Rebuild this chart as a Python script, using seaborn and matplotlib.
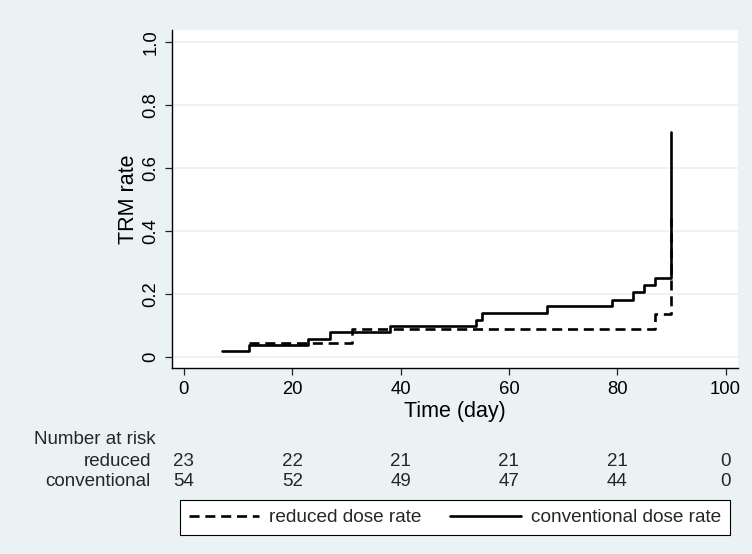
import numpy as np
import pandas as pd
import matplotlib
matplotlib.use("Agg")
import matplotlib.pyplot as plt
import seaborn as sns
from matplotlib.transforms import blended_transform_factory
from matplotlib.lines import Line2D

# ---------------- data ----------------
conv_time = [7, 12, 23, 27, 38, 54, 55, 67, 79, 83, 85, 87, 90]
conv_rate = [0.018, 0.037, 0.055, 0.077, 0.096, 0.117, 0.138, 0.161, 0.181, 0.205, 0.228, 0.251, 0.716]
red_time = [12, 31, 87, 90]
red_rate = [0.043, 0.087, 0.136, 0.441]
group_labels = ["reduced dose rate", "conventional dose rate"]
risk_row_labels = ["reduced", "conventional"]
risk_times = [0, 20, 40, 60, 80, 100]
risk_reduced = [23, 22, 21, 21, 21, 0]
risk_conventional = [54, 52, 49, 47, 44, 0]
x_ticks = [0, 20, 40, 60, 80, 100]
y_ticks = [0, 0.2, 0.4, 0.6, 0.8, 1.0]
y_ticklabels = ["0", "0.2", "0.4", "0.6", "0.8", "1.0"]

BG = "#eaf2f3"
W, H = 752, 554

sns.set_theme(style="white")
plt.rcParams['font.family'] = ['Liberation Sans', 'DejaVu Sans']

fig = plt.figure(figsize=(W / 100, H / 100), dpi=100, facecolor=BG)
ax = fig.add_axes([172 / W, 1 - 368 / H, (738 - 172) / W, (368 - 30) / H])
ax.set_facecolor("white")

df_red = pd.DataFrame({"time": red_time, "rate": red_rate})
df_conv = pd.DataFrame({"time": conv_time, "rate": conv_rate})

LW = 1.9
DASH = (0, (3.8, 2.2))
sns.lineplot(data=df_red, x="time", y="rate", ax=ax, color="black", lw=LW,
             drawstyle="steps-post", linestyle=DASH, estimator=None, sort=False,
             legend=False)
sns.lineplot(data=df_conv, x="time", y="rate", ax=ax, color="black", lw=LW,
             drawstyle="steps-post", estimator=None, sort=False, legend=False)

ax.set_xlim(-2.2, 102.3)
ax.set_ylim(-0.036, 1.039)
ax.set_xticks(x_ticks)
ax.set_xticklabels([str(t) for t in x_ticks])
ax.set_yticks(y_ticks)
ax.set_yticklabels(y_ticklabels, rotation=90, va="center")

ax.yaxis.grid(True, color=BG, lw=1.3)
ax.xaxis.grid(False)
for s in ["top", "right"]:
    ax.spines[s].set_visible(False)
for s in ["left", "bottom"]:
    ax.spines[s].set_color("black")
    ax.spines[s].set_linewidth(1.0)

ax.tick_params(axis="both", which="major", direction="out", length=5, width=0.9,
               color="#222222", labelsize=13.3, labelcolor="black", pad=4,
               bottom=True, left=True)

ax.set_xlabel("Time (day)", fontsize=15.5, color="black")
ax.set_ylabel("TRM rate", fontsize=15.5, color="black")
ax.xaxis.set_label_coords(0.5, (368 - 411) / 338)
ax.xaxis.label.set_va("center")
ax.yaxis.set_label_coords((129 - 172) / 566, 0.5)
ax.yaxis.label.set_va("center")

# ------------- number at risk table -------------
tr = blended_transform_factory(ax.transData, fig.transFigure)
fs_tab = 13.5
fig.text(34 / W, 1 - 440 / H, "Number at risk", ha="left", va="center", fontsize=fs_tab)
row_y = [461, 482]
for lab, yy, vals in zip(risk_row_labels, row_y, [risk_reduced, risk_conventional]):
    fig.text(151 / W, 1 - yy / H, lab, ha="right", va="center", fontsize=fs_tab)
    for t, v in zip(risk_times, vals):
        ax.text(t, 1 - yy / H, str(v), transform=tr, ha="center", va="center",
                fontsize=fs_tab, clip_on=False)

# ------------- legend -------------
handles = [Line2D([], [], color="black", lw=LW, linestyle=DASH),
           Line2D([], [], color="black", lw=LW)]
leg = fig.legend(handles, group_labels, loc="center",
                 bbox_to_anchor=(455 / W, 1 - 517.5 / H), ncol=2,
                 fontsize=13.7, frameon=True, fancybox=False,
                 handlelength=3.7, handletextpad=0.55, columnspacing=1.5,
                 borderpad=0.45, borderaxespad=0)
fr = leg.get_frame()
fr.set_edgecolor("black")
fr.set_linewidth(0.8)
fr.set_facecolor("white")
fr.set_alpha(1)

fig.savefig("out.png", dpi=100, facecolor=BG)
